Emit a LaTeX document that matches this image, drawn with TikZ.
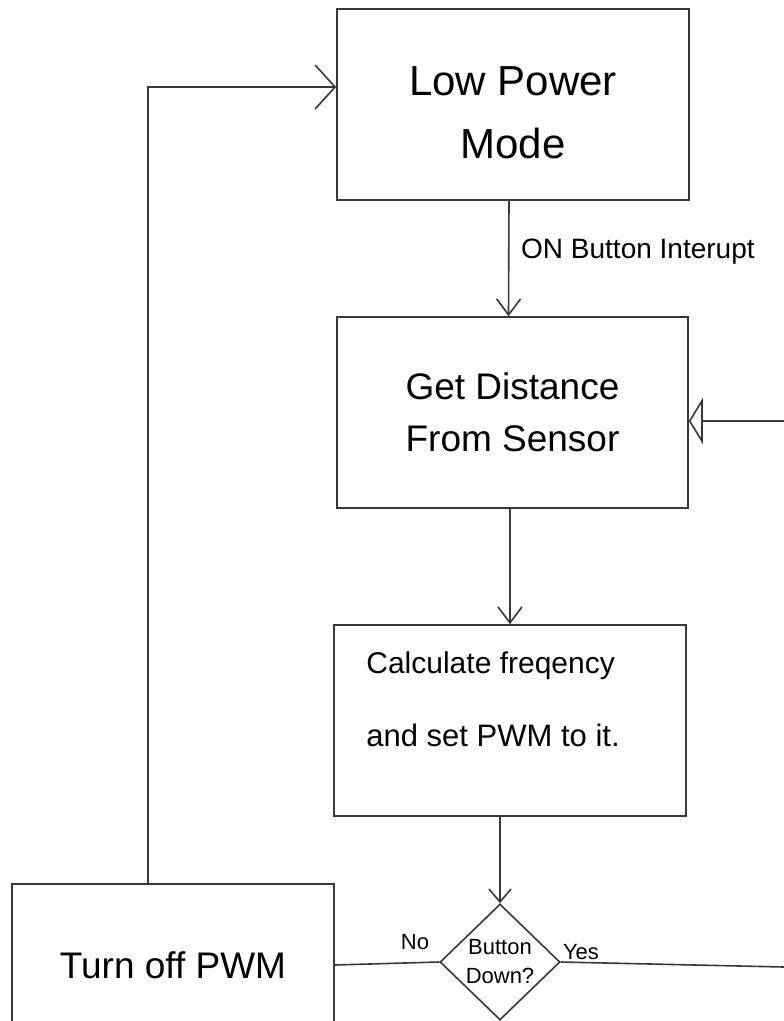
\documentclass[tikz,border=0pt]{standalone}
\usepackage{fontspec}
\setmainfont{Liberation Sans}
\usetikzlibrary{shapes.geometric,arrows.meta}
\definecolor{ln}{gray}{0.22}
\begin{document}
\begin{tikzpicture}[x=1pt,y=-1pt,
  box/.style={draw=ln, line width=1.6pt, inner sep=0pt, align=center, text=black},
  conn/.style={draw=ln, line width=1.6pt},
  barb/.style={-{Straight Barb[length=16pt,width=24pt]}},
  lbl/.style={text=black, inner sep=0pt}]
\fill[white] (0,0) rectangle (784,1021);
\useasboundingbox (0,0) rectangle (784,1021);
\clip (0,0) rectangle (784,1021);

\node[box, minimum width=352pt, minimum height=191pt,
  label={[lbl, align=center, font=\fontsize{42}{63}\selectfont, yshift=-8pt]center:Low Power\\Mode}] (b1) at (513,104.5) {};
\node[box, minimum width=351pt, minimum height=191pt, font=\fontsize{37}{52}\selectfont] (b2) at (512.5,412.5) {Get Distance\\From Sensor};
\node[box, minimum width=352pt, minimum height=191pt] (b3) at (510,720.5) {};
\node[lbl, anchor=north west, align=left, font=\fontsize{30}{36}\selectfont] (t3) at ([shift={(33,27)}]b3.north west) {Calculate freqency\\[37pt]{\fontsize{31}{36}\selectfont and set PWM to it.}};
\node[box, minimum width=322pt, minimum height=162pt, font=\fontsize{37}{44}\selectfont] (off) at (173,965) {Turn off PWM};
\node[draw=ln, line width=1.6pt, diamond, minimum width=120pt, minimum height=116pt, inner sep=0pt, align=center, font=\fontsize{22}{29}\selectfont] (d) at (500,962) {Button\\Down?};

\draw[conn, barb] ([xshift=-4pt]b1.south) -- ([xshift=-4pt]b2.north);
\draw[conn, barb] (b2.south -| b3.north) -- (b3.north);
\draw[conn, -{Straight Barb[length=13pt,width=22pt]}] (d.north |- b3.south) -- (d.north);
\draw[conn] (d.west) -- (off.east);
\coordinate (ye) at (784,967);
\draw[conn] (d.east) -- (ye);
\coordinate (re) at (784,421);
\draw[conn, -{Triangle[open,length=14pt,width=46pt]}] (re) -- (b2.east |- re);
\coordinate (lp) at (148,87);
\draw[conn, -{Straight Barb[length=20pt,width=44pt]}] (lp |- off.north) -- (lp) -- (lp -| b1.west);

\node[lbl, anchor=west, font=\fontsize{28}{32}\selectfont] (lon) at (521,252) {ON Button Interupt};
\node[lbl, font=\fontsize{22}{26}\selectfont] (lno) at (415,942) {No};
\node[lbl, font=\fontsize{22}{26}\selectfont] (lyes) at (581,952) {Yes};
\end{tikzpicture}
\end{document}
